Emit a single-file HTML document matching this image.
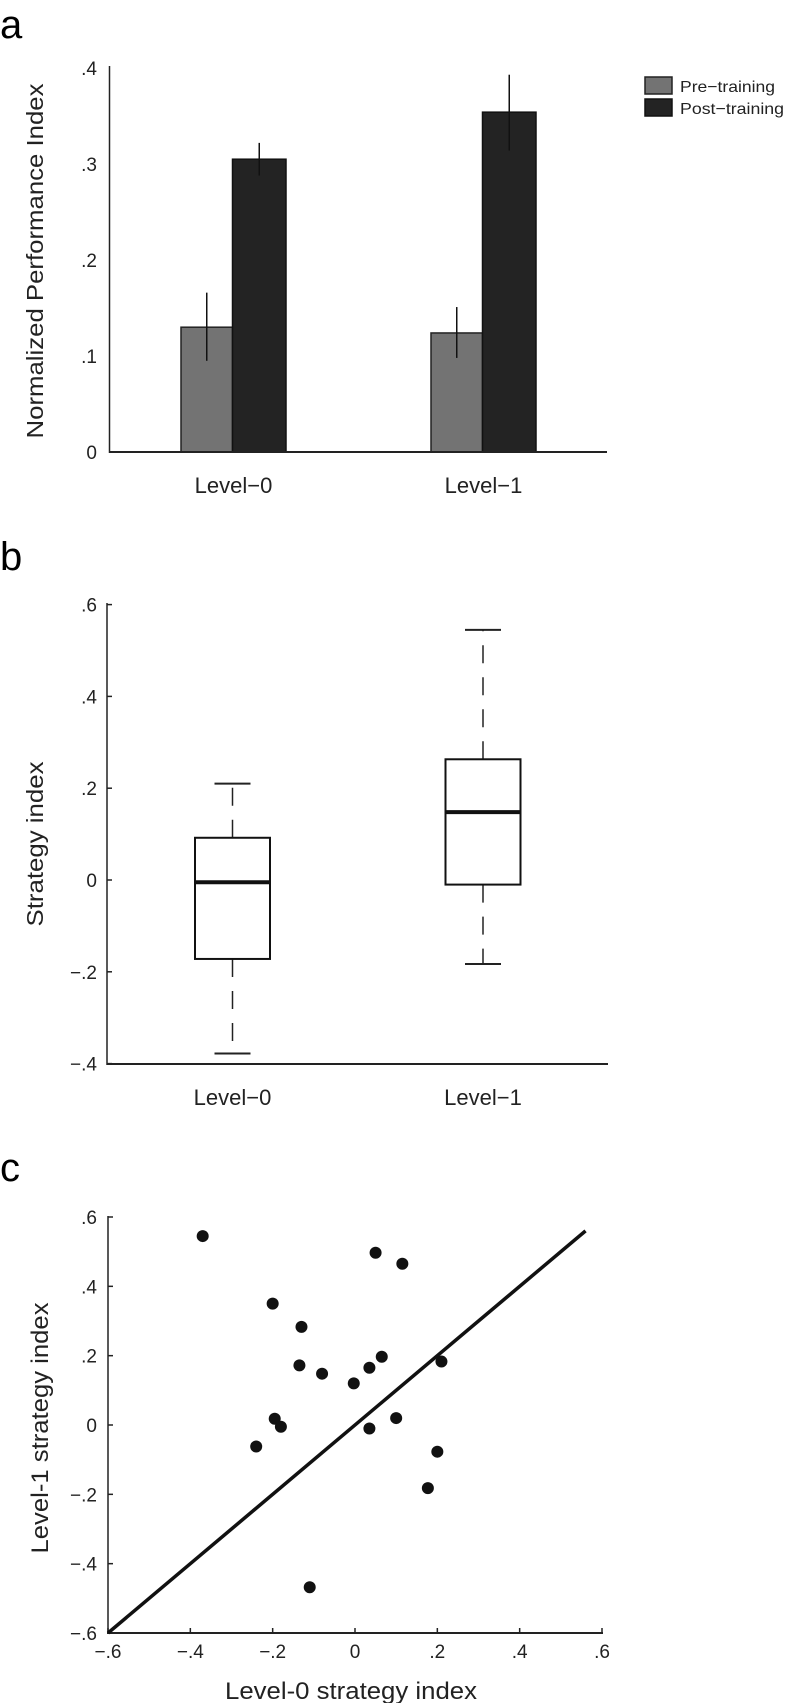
<!DOCTYPE html>
<html><head><meta charset="utf-8"><style>
html,body{margin:0;padding:0;background:#fff;}
svg{display:block;font-family:"Liberation Sans",sans-serif;}
</style></head><body>
<svg id="fig" width="787" height="1703" viewBox="0 0 787 1703" xmlns="http://www.w3.org/2000/svg">
<text x="0" y="38" font-size="40">a</text>
<text x="0" y="570" font-size="40">b</text>
<text x="0" y="1181" font-size="40">c</text>
<g id="pa"></g>
<g id="pb"></g>
<g id="pc"></g>
</svg>
<script>
// Panel a data
const barCats = ["Level\u22120", "Level\u22121"];
const preVals = [0.130, 0.124];
const postVals = [0.305, 0.354];
const preErrLo = [0.095, 0.098];
const preErrHi = [0.166, 0.151];
const postErrLo = [0.288, 0.314];
const postErrHi = [0.322, 0.393];
const barTicks = [0, 0.1, 0.2, 0.3, 0.4];
const barTickLabels = ["0", ".1", ".2", ".3", ".4"];
// Panel b data
const boxCats = ["Level\u22120", "Level\u22121"];
const boxMin = [-0.378, -0.183];
const boxQ1 = [-0.172, -0.010];
const boxMed = [-0.005, 0.148];
const boxQ3 = [0.092, 0.263];
const boxMax = [0.210, 0.545];
const boxTicks = [-0.4, -0.2, 0, 0.2, 0.4, 0.6];
const boxTickLabels = ["\u2212.4", "\u2212.2", "0", ".2", ".4", ".6"];
// Panel c data
const scX = [-0.37, 0.05, 0.115, -0.20, -0.13, -0.135, -0.08, 0.065, 0.035, -0.003, 0.21, -0.195, -0.18, 0.035, 0.10, -0.24, 0.20, 0.177, -0.11];
const scY = [0.545, 0.497, 0.465, 0.350, 0.283, 0.172, 0.148, 0.197, 0.165, 0.120, 0.183, 0.018, -0.005, -0.010, 0.020, -0.062, -0.077, -0.182, -0.468];
const scTicks = [-0.6, -0.4, -0.2, 0, 0.2, 0.4, 0.6];
const scTickLabels = ["\u2212.6", "\u2212.4", "\u2212.2", "0", ".2", ".4", ".6"];
const idLine = [-0.6, 0.56];

const NS = "http://www.w3.org/2000/svg";
function mk(parent, tag, attrs, txt) {
  const e = document.createElementNS(NS, tag);
  for (const k in attrs) e.setAttribute(k, attrs[k]);
  if (txt !== undefined) e.textContent = txt;
  parent.appendChild(e);
  return e;
}

// ---------- Panel a ----------
(function () {
  const g = document.getElementById('pa');
  const y = v => 452 - v / 0.4 * 384;
  const ax = 109.5, xEnd = 607;
  const groupLeft = [181, 431];
  const bw = 51.5;
  barCats.forEach((c, i) => {
    const x0 = groupLeft[i];
    const r1 = mk(g, 'rect', {x: x0, y: y(preVals[i]), width: bw, height: y(0) - y(preVals[i]), fill: '#737373', stroke: '#222', 'stroke-width': 1.5});
    
    
    const r2 = mk(g, 'rect', {x: x0 + bw, y: y(postVals[i]), width: bw + 2, height: y(0) - y(postVals[i]), fill: '#232323', stroke: '#111', 'stroke-width': 1.5});
    
    
    const e1 = mk(g, 'line', {x1: x0 + bw / 2, x2: x0 + bw / 2, y1: y(preErrLo[i]), y2: y(preErrHi[i]), stroke: '#111', 'stroke-width': 1.5});
    
    
    const e2 = mk(g, 'line', {x1: x0 + bw * 1.5 + 1, x2: x0 + bw * 1.5 + 1, y1: y(postErrLo[i]), y2: y(postErrHi[i]), stroke: '#111', 'stroke-width': 1.5});
    
    
    const t = mk(g, 'text', {x: x0 + bw + 1, y: 493, 'font-size': 22, 'text-anchor': 'middle', fill: '#222'}, c);
    
    
  });
  const yl = mk(g, 'line', {x1: ax, x2: ax, y1: 66, y2: 453, stroke: '#222', 'stroke-width': 1.5});
  
  
  const xl = mk(g, 'line', {x1: ax, x2: xEnd, y1: 452, y2: 452, stroke: '#222', 'stroke-width': 2});
  
  
  barTicks.forEach((v, i) => {
    const t = mk(g, 'text', {x: 97, y: y(v) + 7, 'font-size': 19, 'text-anchor': 'end', fill: '#222'}, barTickLabels[i]);
    
    
  });
  const ylab = mk(g, 'text', {x: 0, y: 0, 'font-size': 23, 'text-anchor': 'middle', fill: '#222', transform: 'translate(43,261) rotate(-90)', textLength: 355, lengthAdjust: 'spacingAndGlyphs'}, 'Normalized Performance Index');
  
  
  const l1 = mk(g, 'rect', {x: 645, y: 77, width: 27, height: 17, fill: '#737373', stroke: '#222', 'stroke-width': 1.5});
  
  
  const l2 = mk(g, 'rect', {x: 645, y: 99, width: 27, height: 17, fill: '#232323', stroke: '#111', 'stroke-width': 1.5});
  
  
  const lt1 = mk(g, 'text', {x: 680, y: 92, 'font-size': 16, fill: '#222', textLength: 95, lengthAdjust: 'spacingAndGlyphs'}, 'Pre\u2212training');
  
  
  const lt2 = mk(g, 'text', {x: 680, y: 114, 'font-size': 16, fill: '#222', textLength: 104, lengthAdjust: 'spacingAndGlyphs'}, 'Post\u2212training');
  
  
})();

// ---------- Panel b ----------
(function () {
  const g = document.getElementById('pb');
  const y = v => 1063.6 - (v + 0.4) / 1.0 * 459;
  const ax = 107, xEnd = 608;
  const centers = [232.5, 483];
  const hw = 37.5, cap = 18;
  boxCats.forEach((c, i) => {
    const cx = centers[i];
    const w1 = mk(g, 'line', {x1: cx, x2: cx, y1: y(boxQ3[i]), y2: y(boxMax[i]), stroke: '#222', 'stroke-width': 1.5, 'stroke-dasharray': '18,14'});
    
    
    const w2 = mk(g, 'line', {x1: cx, x2: cx, y1: y(boxQ1[i]), y2: y(boxMin[i]), stroke: '#222', 'stroke-width': 1.5, 'stroke-dasharray': '18,14'});
    
    
    const c1 = mk(g, 'line', {x1: cx - cap, x2: cx + cap, y1: y(boxMax[i]), y2: y(boxMax[i]), stroke: '#222', 'stroke-width': 2});
    
    
    const c2 = mk(g, 'line', {x1: cx - cap, x2: cx + cap, y1: y(boxMin[i]), y2: y(boxMin[i]), stroke: '#222', 'stroke-width': 2});
    
    
    const b = mk(g, 'rect', {x: cx - hw, y: y(boxQ3[i]), width: hw * 2, height: y(boxQ1[i]) - y(boxQ3[i]), fill: '#fff', stroke: '#111', 'stroke-width': 2});
    
    
    const m = mk(g, 'line', {x1: cx - hw, x2: cx + hw, y1: y(boxMed[i]), y2: y(boxMed[i]), stroke: '#111', 'stroke-width': 4});
    
    
    const t = mk(g, 'text', {x: cx, y: 1105, 'font-size': 22, 'text-anchor': 'middle', fill: '#222'}, c);
    
    
  });
  const yl = mk(g, 'line', {x1: ax, x2: ax, y1: 603, y2: 1065, stroke: '#222', 'stroke-width': 1.5});
  
  
  const xl = mk(g, 'line', {x1: ax, x2: xEnd, y1: 1064, y2: 1064, stroke: '#222', 'stroke-width': 2});
  
  
  boxTicks.forEach((v, i) => {
    const tk = mk(g, 'line', {x1: ax, x2: ax + 5, y1: y(v), y2: y(v), stroke: '#222', 'stroke-width': 1.5});
    
    
    const t = mk(g, 'text', {x: 97, y: y(v) + 7, 'font-size': 19, 'text-anchor': 'end', fill: '#222'}, boxTickLabels[i]);
    
    
  });
  const ylab = mk(g, 'text', {x: 0, y: 0, 'font-size': 23, 'text-anchor': 'middle', fill: '#222', transform: 'translate(43,844) rotate(-90)', textLength: 165, lengthAdjust: 'spacingAndGlyphs'}, 'Strategy index');
  
  
})();

// ---------- Panel c ----------
(function () {
  const g = document.getElementById('pc');
  const x = v => 108 + (v + 0.6) / 1.2 * 494;
  const y = v => 1633 - (v + 0.6) / 1.2 * 416;
  const yl = mk(g, 'line', {x1: 108, x2: 108, y1: 1216, y2: 1634, stroke: '#222', 'stroke-width': 1.5});
  
  
  const xl = mk(g, 'line', {x1: 107, x2: 603, y1: 1633, y2: 1633, stroke: '#222', 'stroke-width': 2});
  
  
  scTicks.forEach((v, i) => {
    const ty = mk(g, 'line', {x1: 108, x2: 113, y1: y(v), y2: y(v), stroke: '#222', 'stroke-width': 1.5});
    
    
    const tx = mk(g, 'line', {x1: x(v), x2: x(v), y1: 1633, y2: 1628, stroke: '#222', 'stroke-width': 1.5});
    
    
    const t1 = mk(g, 'text', {x: 97, y: y(v) + 7, 'font-size': 19, 'text-anchor': 'end', fill: '#222'}, scTickLabels[i]);
    
    
    const t2 = mk(g, 'text', {x: x(v), y: 1658, 'font-size': 19, 'text-anchor': 'middle', fill: '#222'}, scTickLabels[i]);
    
    
  });
  const ln = mk(g, 'line', {x1: x(idLine[0]), y1: y(idLine[0]), x2: x(idLine[1]), y2: y(idLine[1]), stroke: '#111', 'stroke-width': 3.5});
  
  
  scX.forEach((v, i) => {
    const d = mk(g, 'circle', {cx: x(v), cy: y(scY[i]), r: 6, fill: '#111'});
    
    
  });
  const ylab = mk(g, 'text', {x: 0, y: 0, 'font-size': 24, 'text-anchor': 'middle', fill: '#222', transform: 'translate(48,1428) rotate(-90)', textLength: 251, lengthAdjust: 'spacingAndGlyphs'}, 'Level-1 strategy index');
  
  
  const xlab = mk(g, 'text', {x: 351, y: 1699, 'font-size': 24, 'text-anchor': 'middle', fill: '#222', textLength: 252, lengthAdjust: 'spacingAndGlyphs'}, 'Level-0 strategy index');
  
  
})();
</script>
</body></html>
